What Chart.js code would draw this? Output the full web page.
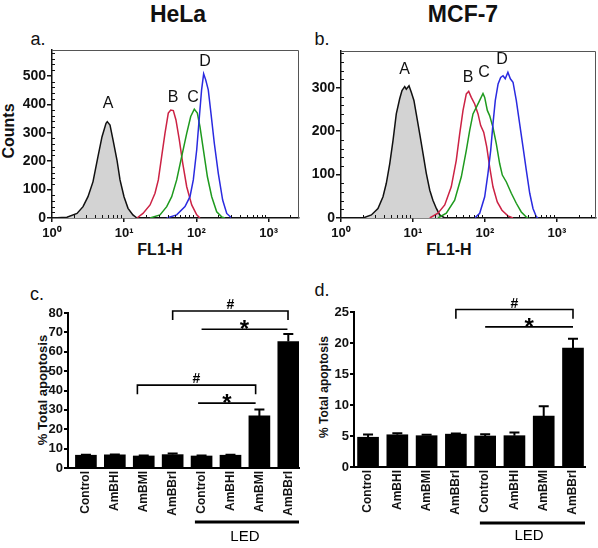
<!DOCTYPE html>
<html>
<head>
<meta charset="utf-8">
<script src="https://cdn.jsdelivr.net/npm/chart.js@4"></script>
<style>
  body { margin: 0; background: #fff; width: 598px; height: 548px; position: relative; overflow: hidden;
         font-family: "Liberation Sans", Arial, sans-serif; color: #111; }
  canvas { position: absolute; }
  .t { position: absolute; white-space: nowrap; line-height: 1; transform: translate(-50%, -50%); }
  .rot { transform: translate(-50%, -50%) rotate(-90deg); }
</style>
</head>
<body>
<div class="t" style="left:178px;top:14px;font-size:23px;font-weight:bold">HeLa</div>
<div class="t" style="left:463px;top:14px;font-size:23px;font-weight:bold">MCF-7</div>
<div class="t" style="left:38px;top:39px;font-size:18px">a.</div>
<div class="t" style="left:322px;top:39px;font-size:18px">b.</div>
<div class="t" style="left:37px;top:294px;font-size:18px">c.</div>
<div class="t" style="left:322px;top:290px;font-size:18px">d.</div>
<div class="t rot" style="left:9px;top:131px;font-size:16px;font-weight:bold">Counts</div>
<div class="t" style="left:160px;top:250px;font-size:16px;font-weight:bold">FL1-H</div>
<div class="t" style="left:449px;top:250px;font-size:16px;font-weight:bold">FL1-H</div>
<div class="t rot" style="left:42px;top:390px;font-size:13px;font-weight:bold">% Total apoptosis</div>
<div class="t rot" style="left:324px;top:387px;font-size:12px;font-weight:bold">% Total apoptosis</div>

<canvas id="chartA" width="300" height="270" style="left:0;top:0"></canvas>
<canvas id="chartB" width="300" height="270" style="left:298px;top:0"></canvas>
<canvas id="chartC" width="300" height="278" style="left:0;top:270px"></canvas>
<canvas id="chartD" width="300" height="278" style="left:298px;top:270px"></canvas>

<script>
// ---- histogram data: [FL1-H, counts] ----
const helaA = [[1.0,0],[1.61,3],[2.22,16],[2.69,40],[3.15,75],[3.70,128],[4.33,216],[4.93,286],[5.60,333],[5.83,339],[6.36,327],[7.0,275],[7.94,204],[8.75,134],[9.94,75],[11.3,34],[13.2,11],[15.0,0]];
const helaB = [[15.0,0],[18.2,16],[22.8,46],[26.7,87],[29.7,134],[33.0,216],[36.7,298],[40.8,369],[44.1,380],[47.9,378],[52.1,345],[58.0,275],[64.6,193],[73.4,110],[86.1,46],[101,11],[112,0]];
const helaC = [[22.8,0],[31.3,11],[38.8,40],[45.5,75],[53.3,134],[62.5,216],[73.4,298],[83.4,357],[93.5,383],[103,369],[112,321],[125,240],[142,145],[163,75],[191,22],[224,4],[249,0]];
const helaD = [[38.8,0],[53.3,11],[69.5,40],[81.5,75],[90.6,134],[101,240],[110,357],[118,451],[126,507],[134.6,486],[146,451],[159,369],[177,263],[201,157],[231,63],[263,16],[308,0]];

const mcfA = [[2.02,0],[2.64,7],[3.26,22],[3.83,49],[4.26,80],[4.75,125],[5.28,179],[5.86,240],[6.53,275],[7.03,294],[7.67,303],[8.07,297],[8.80,305],[9.47,290],[10.3,271],[11.1,240],[12.4,194],[13.8,148],[15.3,103],[17.1,64],[18.9,41],[21.1,22],[23.5,7],[27.6,0]];
const mcfB = [[17.1,0],[22.2,11],[27.6,30],[34.0,72],[39.9,133],[44.5,194],[49.5,248],[55.0,286],[59.4,292],[64.5,278],[71.9,263],[80.0,240],[87.1,213],[95.9,198],[105.7,164],[116,118],[129,72],[148,37],[172,18],[208,5],[245,0]];
const mcfC = [[22.2,0],[29.0,11],[37.9,41],[46.9,95],[55.0,156],[61.3,202],[68.1,240],[75.7,255],[84.4,271],[93.8,287],[99.0,278],[107.7,248],[116,236],[129,209],[143.6,171],[160,125],[174,99],[198,83],[232,57],[272,34],[319,14],[375,2],[418,0]];
const mcfD = [[71.9,0],[84.4,11],[99.0,49],[110,103],[120,156],[129,217],[139,271],[152,309],[165,324],[178,328],[191,321],[208,336],[225,321],[245,313],[272,271],[303,217],[337,164],[375,110],[418,57],[464,22],[516,3],[545,0]];

const curveNames = ['A', 'B', 'C', 'D'];
const helaLabelPos = [[5.97,401],[47.4,423],[89.8,423],[131.5,549]];
const mcfLabelPos = [[7.67,342],[58.1,323],[96.9,335],[172,365]];

const decadeTicks = [1, 10, 100, 1000];
const decadeLabels = ['10\u2070', '10\u00B9', '10\u00B2', '10\u00B3'];
const logMinor = [2,3,4,5,6,7,8,9,20,30,40,50,60,70,80,90,200,300,400,500,600,700,800,900,2000,3000];
const helaYTicks = [0, 100, 200, 300, 400, 500];
const mcfYTicks = [0, 100, 200, 300];
const helaYMinor = [20,40,60,80,120,140,160,180,220,240,260,280,320,340,360,380,420,440,460,480,520,540,560,580];
const mcfYMinor = [20,40,60,80,120,140,160,180,220,240,260,280,320,340,360,380];

// ---- apoptosis bars ----
const groups = ['Control', 'AmBHI', 'AmBMI', 'AmBBrI', 'Control', 'AmBHI', 'AmBMI', 'AmBBrI'];
const helaApop = [6.6, 6.8, 6.2, 6.9, 6.2, 6.6, 26.9, 65.3];
const helaErr = [0.2, 0.2, 0.2, 0.6, 0.2, 0.3, 3.3, 3.8];
const mcfApop = [4.8, 5.2, 5.05, 5.3, 5.0, 5.05, 8.2, 19.2];
const mcfErr = [0.45, 0.25, 0.15, 0.1, 0.3, 0.5, 1.6, 1.5];

const helaMarks = [
  {from: 3, to: 6.99, y: 81.0, drop: 76.4, text: '#'},
  {from: 4, to: 6.97, y: 71.6, text: '*'},
  {from: 1.78, to: 5.87, y: 42.8, drop: 38.1, text: '#'},
  {from: 3.88, to: 5.87, y: 33.5, text: '*'}
];
const mcfMarks = [
  {from: 3, to: 7, y: 25.4, drop: 23.9, text: '#'},
  {from: 4, to: 7, y: 22.6, text: '*'}
];

const FONT = '"Liberation Sans", Arial, sans-serif';
Chart.defaults.font.family = FONT;
Chart.defaults.color = '#111';

// keep the plot area exactly where the axes are told to be
function fixBox(s, size) {
  if (s.isHorizontal()) s.height = size; else s.width = size;
  s.paddingLeft = 0; s.paddingRight = 0; s.paddingTop = 0; s.paddingBottom = 0;
}

// minor ticks, top/right frame and the A-D peak letters
const histExtras = {
  id: 'histExtras',
  afterDraw(chart, args, o) {
    const {ctx, chartArea: a, scales: {x, y}} = chart;
    ctx.save();
    ctx.strokeStyle = '#111';
    ctx.lineWidth = 1;
    ctx.beginPath();
    o.yMinor.forEach(v => {
      const p = Math.round(y.getPixelForValue(v)) + 0.5;
      ctx.moveTo(a.left, p); ctx.lineTo(a.left + 3, p);
    });
    logMinor.forEach(v => {
      if (v > x.max) return;
      const p = Math.round(x.getPixelForValue(v)) + 0.5;
      ctx.moveTo(p, a.bottom); ctx.lineTo(p, a.bottom - 3);
    });
    ctx.stroke();
    ctx.strokeStyle = '#555';
    ctx.beginPath();
    ctx.moveTo(a.left, a.top + 0.5);
    ctx.lineTo(a.right - 0.5, a.top + 0.5);
    ctx.lineTo(a.right - 0.5, a.bottom);
    ctx.stroke();
    ctx.fillStyle = '#111';
    ctx.font = '16px ' + FONT;
    ctx.textAlign = 'center';
    ctx.textBaseline = 'middle';
    o.labels.forEach((p, i) => {
      ctx.fillText(curveNames[i], x.getPixelForValue(p[0]), y.getPixelForValue(p[1]));
    });
    ctx.restore();
  }
};

function histChart(id, curves, xMax, yMax, yTicks, yMinor, labelPos, pad, yW) {
  const colors = ['#111', '#cc2244', '#1e9a1e', '#2a2ae0'];
  new Chart(document.getElementById(id), {
    type: 'line',
    data: {
      datasets: curves.map((c, i) => ({
        data: c.map(p => ({x: p[0], y: p[1]})),
        borderColor: colors[i],
        borderWidth: 1.5,
        pointRadius: 0,
        tension: 0,
        fill: i === 0 ? 'origin' : false,
        backgroundColor: i === 0 ? '#d3d3d3' : 'transparent',
        order: 4 - i
      }))
    },
    options: {
      responsive: false,
      animation: false,
      layout: {padding: pad},
      plugins: {legend: {display: false}, tooltip: {enabled: false},
                histExtras: {yMinor: yMinor, labels: labelPos}},
      scales: {
        x: {
          type: 'logarithmic', min: 1, max: xMax,
          afterBuildTicks: s => { s.ticks = decadeTicks.map(v => ({value: v})); },
          afterFit: s => fixBox(s, 52),
          ticks: {callback: (v, i) => decadeLabels[i], font: {size: 13, weight: 'bold'},
                  padding: 4, maxRotation: 0, autoSkip: false},
          grid: {display: true, drawOnChartArea: false, tickLength: 4, color: '#111', lineWidth: 1.5},
          border: {color: '#111', width: 1.5}
        },
        y: {
          min: 0, max: yMax,
          afterBuildTicks: s => { s.ticks = yTicks.map(v => ({value: v})); },
          afterFit: s => fixBox(s, yW),
          ticks: {font: {size: 14, weight: 'bold'}, padding: 1},
          grid: {display: true, drawOnChartArea: false, tickLength: 5, color: '#111', lineWidth: 1.5},
          border: {color: '#111', width: 1.5}
        }
      }
    },
    plugins: [histExtras]
  });
}

// error bars, significance brackets and the LED bar
const barExtras = {
  id: 'barExtras',
  afterDraw(chart, args, o) {
    const {ctx, chartArea: a, scales: {x, y}} = chart;
    ctx.save();
    ctx.strokeStyle = '#000';
    ctx.fillStyle = '#000';
    ctx.lineWidth = 2;
    chart.getDatasetMeta(0).data.forEach((bar, i) => {
      const top = y.getPixelForValue(o.vals[i] + o.errs[i]);
      ctx.beginPath();
      ctx.moveTo(bar.x, bar.y); ctx.lineTo(bar.x, top);
      ctx.moveTo(bar.x - 5, top); ctx.lineTo(bar.x + 5, top);
      ctx.stroke();
    });
    ctx.lineWidth = 1.6;
    ctx.textAlign = 'center';
    ctx.textBaseline = 'alphabetic';
    o.marks.forEach(m => {
      const x1 = x.getPixelForValue(m.from), x2 = x.getPixelForValue(m.to), yy = y.getPixelForValue(m.y);
      ctx.beginPath();
      if (m.drop != null) {
        const yd = y.getPixelForValue(m.drop);
        ctx.moveTo(x1, yd); ctx.lineTo(x1, yy); ctx.lineTo(x2, yy); ctx.lineTo(x2, yd);
      } else {
        ctx.moveTo(x1, yy); ctx.lineTo(x2, yy);
      }
      ctx.stroke();
      if (m.text === '#') {
        ctx.font = 'bold 14px ' + FONT;
        ctx.fillText('#', (x1 + x2) / 2, yy - 2);
      } else {
        ctx.font = 'bold 24px ' + FONT;
        ctx.fillText('*', (x1 + x2) / 2, yy + 8);
      }
    });
    const lx1 = x.getPixelForValue(o.led.from), lx2 = x.getPixelForValue(o.led.to);
    ctx.lineWidth = 3;
    ctx.beginPath();
    ctx.moveTo(lx1, a.bottom + o.led.dy); ctx.lineTo(lx2, a.bottom + o.led.dy);
    ctx.stroke();
    ctx.font = '15px ' + FONT;
    ctx.textBaseline = 'middle';
    ctx.fillText('LED', x.getPixelForValue(o.led.mid), a.bottom + o.led.textDy);
    ctx.restore();
  }
};

function barChart(id, vals, errs, yMax, yStep, xMin, xMax, marks, led, pad, yW, xH, tickSize) {
  new Chart(document.getElementById(id), {
    type: 'bar',
    data: {
      datasets: [{
        data: vals.map((v, i) => ({x: i, y: v})),
        backgroundColor: '#000',
        barThickness: 21
      }]
    },
    options: {
      responsive: false,
      animation: false,
      layout: {padding: pad},
      plugins: {legend: {display: false}, tooltip: {enabled: false},
                barExtras: {vals: vals, errs: errs, marks: marks, led: led}},
      scales: {
        x: {
          type: 'linear', min: xMin, max: xMax, offset: false,
          afterBuildTicks: s => { s.ticks = groups.map((g, i) => ({value: i})); },
          afterFit: s => fixBox(s, xH),
          ticks: {callback: (v, i) => groups[i], font: {size: 12, weight: 'bold'},
                  minRotation: 90, maxRotation: 90, autoSkip: false, padding: 3},
          grid: {display: false, drawTicks: false, offset: false},
          border: {color: '#000', width: 2}
        },
        y: {
          min: 0, max: yMax,
          afterFit: s => fixBox(s, yW),
          ticks: {stepSize: yStep, font: {size: tickSize, weight: 'bold'}, padding: 1},
          grid: {display: true, drawOnChartArea: false, tickLength: 4, color: '#000', lineWidth: 2},
          border: {color: '#000', width: 2}
        }
      }
    },
    plugins: [barExtras]
  });
}

histChart('chartA', [helaA, helaB, helaC, helaD], 2636, 591, helaYTicks, helaYMinor, helaLabelPos,
          {top: 50, right: 1, left: 0, bottom: 0}, 52);
histChart('chartB', [mcfA, mcfB, mcfC, mcfD], 3480, 385, mcfYTicks, mcfYMinor, mcfLabelPos,
          {top: 51, right: 2, left: 0, bottom: 0}, 43);
barChart('chartC', helaApop, helaErr, 80, 10, -0.62, 7.37, helaMarks,
         {from: 3.77, to: 7.37, mid: 5.5, dy: 54, textDy: 69},
         {top: 43, right: 1, left: 0, bottom: 0}, 68, 80, 13);
barChart('chartD', mcfApop, mcfErr, 25, 5, -0.48, 7.41, mcfMarks,
         {from: 3.82, to: 7.41, mid: 5.5, dy: 56, textDy: 69},
         {top: 42, right: 13, left: 0, bottom: 0}, 56, 81, 13);
</script>
</body>
</html>
